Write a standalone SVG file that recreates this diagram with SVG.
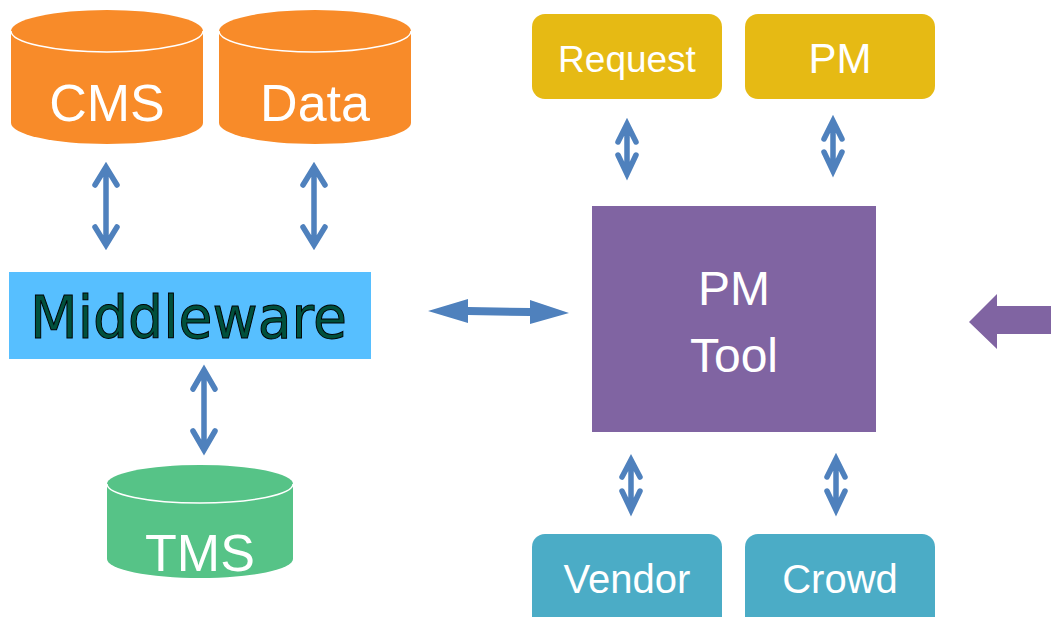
<svg xmlns="http://www.w3.org/2000/svg" width="1051" height="617" viewBox="0 0 1051 617">
<style>
.lbl{font-family:"Liberation Sans",Arial,sans-serif;fill:#fff;text-anchor:middle}
.dbl{fill:none;stroke:#4F81BD;stroke-width:5.5;stroke-linecap:round;stroke-linejoin:miter}
.blk{fill:#4F81BD}
.rim{fill:none;stroke:#fff;stroke-width:1.5}
</style>
<rect width="1051" height="617" fill="#fff"/>
<g id="cms">
<path d="M11 31 A96 21 0 0 1 203 31 V123 A96 21 0 0 1 11 123 Z" fill="#F88B29"/>
<path class="rim" d="M11 31 A96 21 0 0 0 203 31"/>
<text class="lbl" x="107" y="121" font-size="52">CMS</text>
</g>
<g id="data">
<path d="M219 31 A96 21 0 0 1 411 31 V123 A96 21 0 0 1 219 123 Z" fill="#F88B29"/>
<path class="rim" d="M219 31 A96 21 0 0 0 411 31"/>
<text class="lbl" x="315" y="121" font-size="52">Data</text>
</g>
<g id="middleware">
<rect x="9" y="272" width="362" height="87" fill="#57BFFF"/>
<text x="30" y="338" font-family="DejaVu Sans,Verdana,sans-serif" font-size="58" textLength="317" lengthAdjust="spacingAndGlyphs" fill="#00503C" stroke="#000" stroke-width="1">Middleware</text>
</g>
<g id="tms">
<path d="M107 484 A93 19 0 0 1 293 484 V559 A93 19 0 0 1 107 559 Z" fill="#56C387"/>
<path class="rim" d="M107 484 A93 19 0 0 0 293 484"/>
<text class="lbl" x="200" y="571" font-size="52">TMS</text>
</g>
<g id="pmtool">
<rect x="592" y="206" width="284" height="226" fill="#8064A2"/>
<text class="lbl" x="734" y="305" font-size="48">PM</text>
<text class="lbl" x="734" y="372" font-size="48">Tool</text>
</g>
<g id="request">
<rect x="532" y="14" width="190" height="85" rx="13" fill="#E6BA14"/>
<text class="lbl" x="627" y="72" font-size="37">Request</text>
</g>
<g id="pm">
<rect x="745" y="14" width="190" height="85" rx="13" fill="#E6BA14"/>
<text class="lbl" x="840" y="73" font-size="42">PM</text>
</g>
<g id="vendor">
<rect x="532" y="534" width="190" height="100" rx="13" fill="#4BACC6"/>
<text class="lbl" x="627" y="593" font-size="40">Vendor</text>
</g>
<g id="crowd">
<rect x="745" y="534" width="190" height="100" rx="13" fill="#4BACC6"/>
<text class="lbl" x="840" y="593" font-size="40">Crowd</text>
</g>
<g id="connectors">
<path class="dbl" d="M106 170 V242 M95 185 L106 167 L117 185 M95 227 L106 245 L117 227"/>
<path class="dbl" d="M314 170 V242 M303 185 L314 167 L325 185 M303 227 L314 245 L325 227"/>
<path class="dbl" d="M204 373 V447 M193 389 L204 370 L215 389 M193 431 L204 450 L215 431"/>
<path class="dbl" d="M627 128 V172 M618 142 L627 124 L636 142 M618 155 L627 174 L636 155"/>
<path class="dbl" d="M833 125 V169 M824 139 L833 121 L842 139 M824 152 L833 171 L842 152"/>
<path class="dbl" d="M631 463 V508 M622 477 L631 460 L640 477 M622 491 L631 510 L640 491"/>
<path class="dbl" d="M836 462 V508 M827 477 L836 459 L845 477 M827 491 L836 510 L845 491"/>
<polygon class="blk" points="428,311 468,299 468,307 530,308 530,300 569,313 530,324 530,316 468,315 468,323"/>
<polygon fill="#8064A2" points="969,322 997,294 997,306 1051,306 1051,334 997,334 997,349"/>
</g>
</svg>
